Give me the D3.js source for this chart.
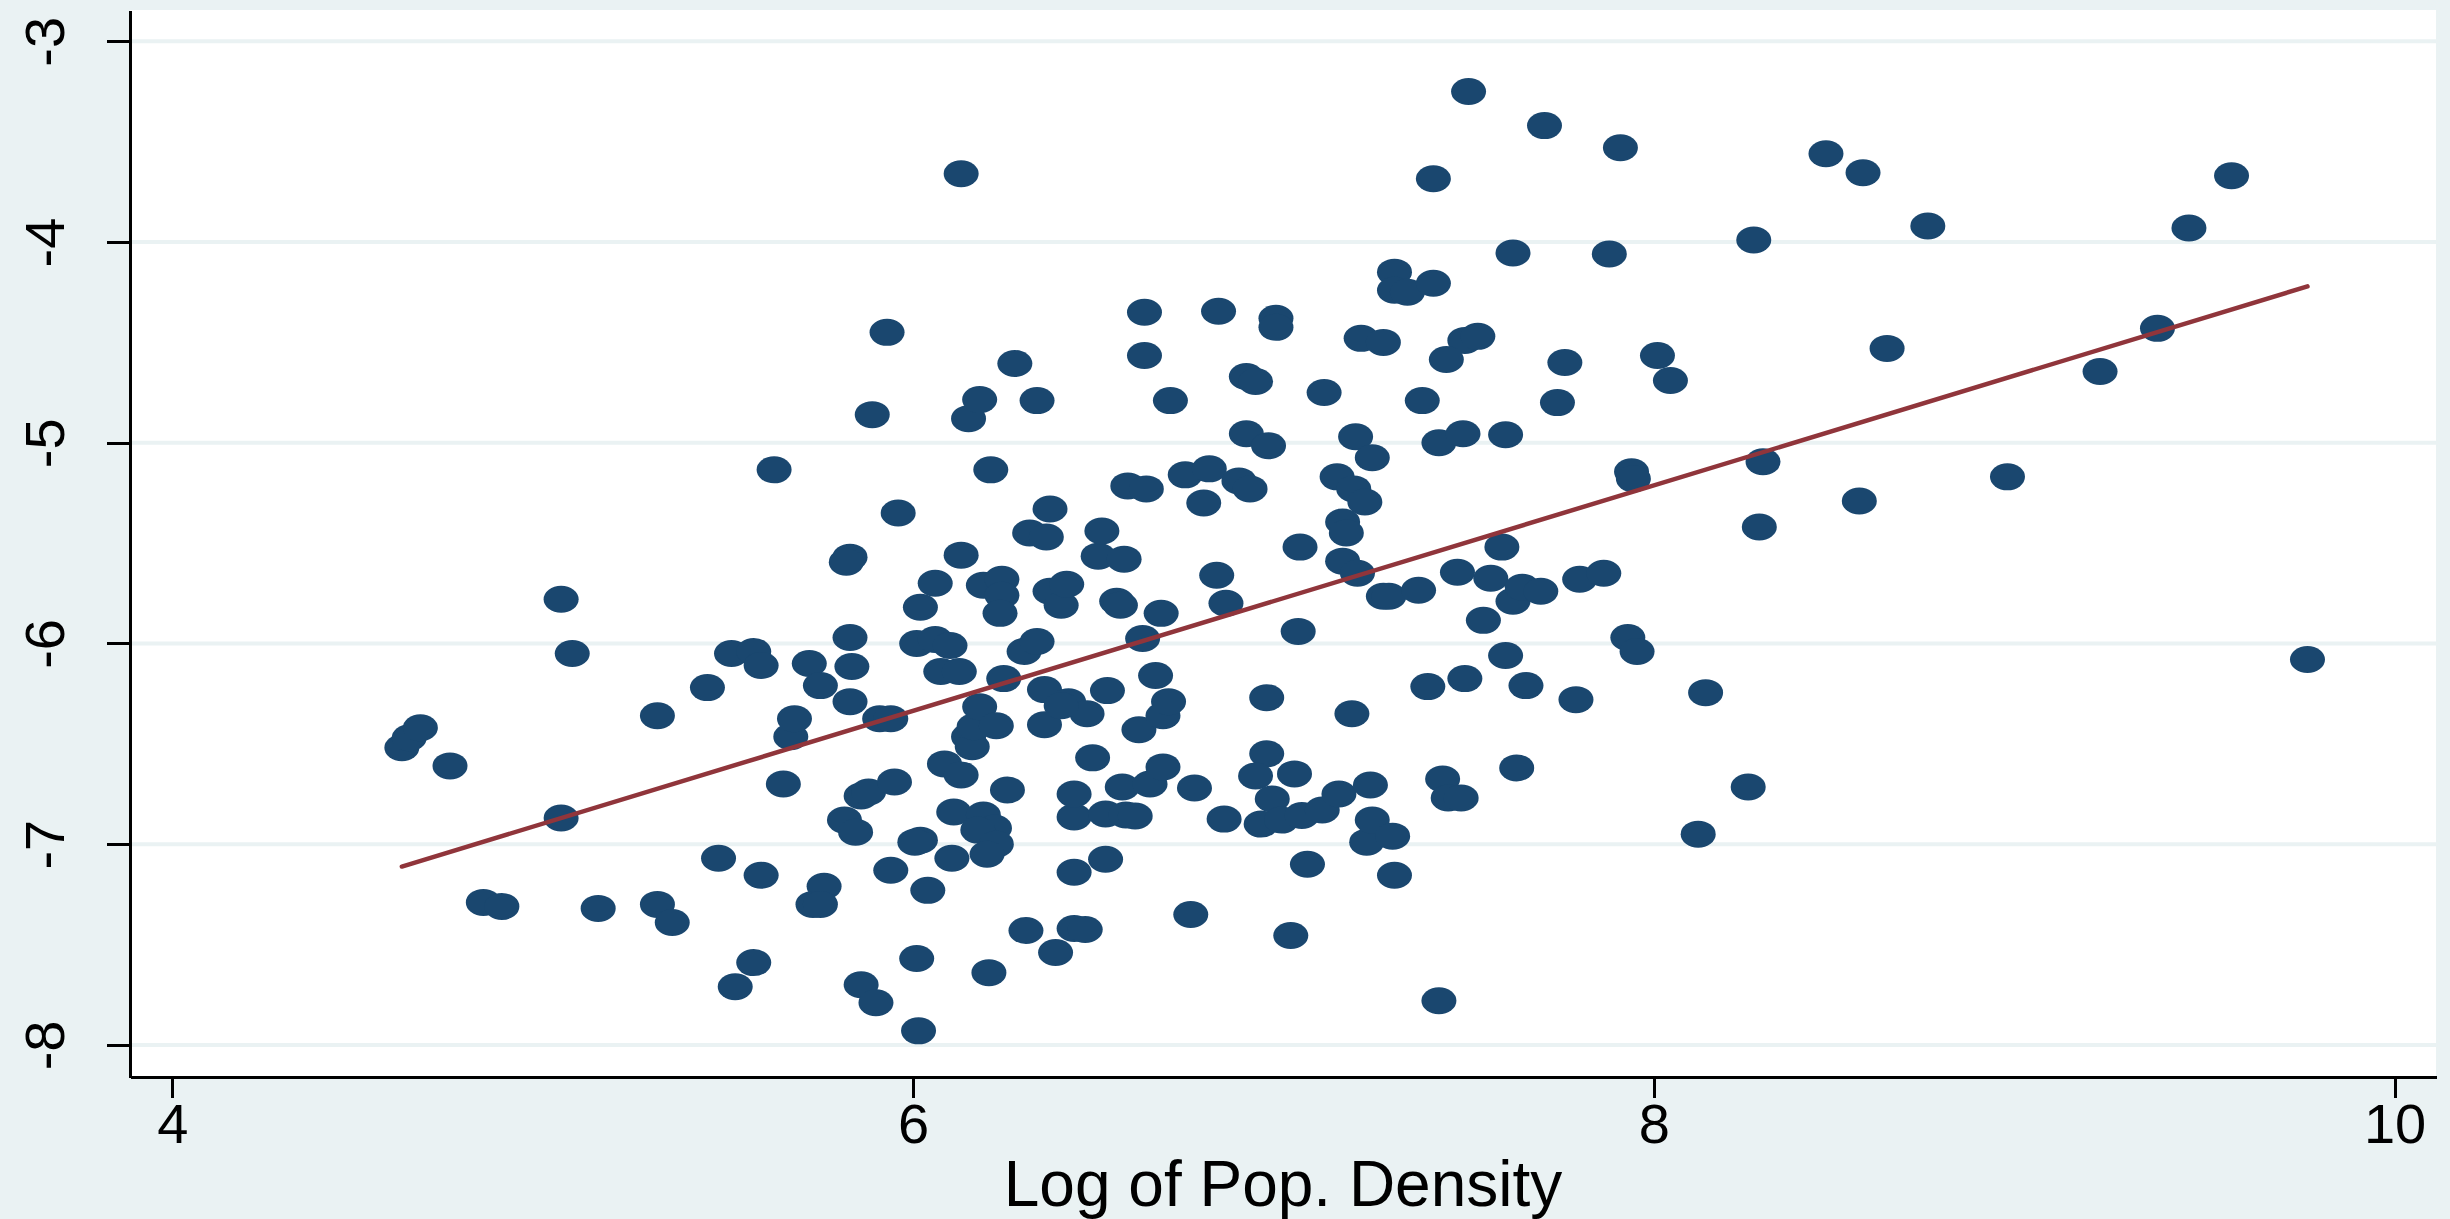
<!DOCTYPE html>
<html>
  <head>
    <meta charset="utf-8">
    <title>Log of Pop. Density scatter</title>
    <script src="https://d3js.org/d3.v7.min.js"></script>
    <style>
        body { margin: 0; background: #eaf2f3; }
        .axis text { font-family: "Liberation Sans", Arial, sans-serif; font-size: 56px; fill: #000; }
        .axis path, .axis line { stroke: #000; stroke-width: 3px; shape-rendering: crispEdges; }
        .x-title { font-family: "Liberation Sans", Arial, sans-serif; font-size: 64px; fill: #000; }
    </style>
  </head>
  <body>
    <svg width="2450" height="1219"></svg>
    <script>
        // x values (log of population density)
        const logDensity = [
          4.62, 4.64, 4.67, 4.75, 4.84, 4.89, 5.05, 5.08, 5.05, 5.15,
          5.31, 5.31, 5.35, 5.445, 5.475, 5.51, 5.52, 5.57, 5.59, 5.57,
          5.59, 5.625, 5.65, 5.67, 5.68, 5.72, 5.75, 5.76, 5.73, 5.75,
          5.83, 5.82, 5.83, 5.835, 5.83, 5.815, 5.845, 5.86, 5.88, 5.95,
          5.86, 5.90, 5.91, 5.94, 5.93, 5.94, 5.96, 5.89, 6.01, 6.02,
          6.02, 6.005, 6.04, 6.01, 6.015, 6.06, 6.06, 6.075, 6.085, 6.125,
          6.10, 6.11, 6.105, 6.13, 6.13, 6.13, 6.15, 6.16, 6.165, 6.15,
          6.18, 6.18, 6.19, 6.22, 6.175, 6.225, 6.20, 6.19, 6.21, 6.205,
          6.225, 6.245, 6.24, 6.24, 6.235, 6.255, 6.275, 6.30, 6.305, 6.335,
          6.315, 6.335, 6.36, 6.37, 6.355, 6.355, 6.37, 6.40, 6.415, 6.385,
          6.42, 6.435, 6.435, 6.435, 6.435, 6.465, 6.47, 6.40, 6.485, 6.50,
          6.51, 6.525, 6.52, 6.52, 6.55, 6.56, 6.57, 6.58, 6.565, 6.575,
          6.60, 6.61, 6.62, 6.63, 6.625, 6.625, 6.655, 6.64, 6.675, 6.67,
          6.675, 6.69, 6.695, 6.735, 6.76, 6.75, 6.785, 6.80, 6.825, 6.82,
          6.845, 6.84, 6.88, 6.90, 6.91, 6.90, 6.925, 6.955, 6.925, 6.97,
          6.94, 6.995, 7.03, 6.955, 6.96, 6.98, 6.98, 7.02, 7.04, 7.045,
          7.05, 7.065, 7.105, 7.11, 7.145, 7.15, 7.16, 7.17, 7.16, 7.195,
          7.19, 7.20, 7.185, 7.22, 7.21, 7.225, 7.24, 7.235, 7.24, 7.27,
          7.285, 7.27, 7.295, 7.30, 7.30, 7.30, 7.335, 7.375, 7.365, 7.39,
          7.405, 7.405, 7.42, 7.42, 7.43, 7.445, 7.48, 7.47, 7.49, 7.49,
          7.525, 7.44, 7.50, 7.485, 7.54, 7.56, 7.59, 7.60, 7.60, 7.62,
          7.63, 7.62, 7.645, 7.655, 7.695, 7.705, 7.74, 7.76, 7.79, 7.80,
          7.865, 7.88, 7.91, 7.93, 7.94, 7.945, 7.955, 8.01, 8.045, 8.12,
          8.14, 8.255, 8.27, 8.285, 8.295, 8.465, 8.555, 8.565, 8.63, 8.74,
          8.955, 9.205, 9.36, 9.445, 9.56, 9.765
        ];

        // y values, same order as logDensity
        const outcome = [
          -6.52, -6.47, -6.42, -6.61, -7.29, -7.31, -5.78, -6.05, -6.87, -7.32,
          -6.36, -7.30, -7.39, -6.22, -7.07, -6.05, -7.71, -6.04, -6.11, -7.59,
          -7.155, -5.135, -6.70, -6.465, -6.375, -6.10, -6.21, -7.21, -7.30, -7.30,
          -5.57, -5.595, -5.97, -6.115, -6.29, -6.88, -6.94, -6.76, -6.74, -6.69,
          -7.70, -7.79, -6.375, -6.375, -4.45, -7.13, -5.35, -4.86, -6.00, -5.82,
          -6.98, -6.99, -7.23, -7.57, -7.93, -5.70, -5.98, -6.14, -6.60, -6.14,
          -6.01, -6.84, -7.07, -6.655, -5.56, -3.66, -6.465, -6.515, -6.415, -4.88,
          -4.785, -6.315, -6.855, -6.92, -6.93, -7.00, -7.05, -5.71, -5.135, -7.64,
          -6.41, -6.175, -5.68, -5.76, -5.85, -6.73, -4.605, -6.04, -7.43, -5.99,
          -5.45, -4.79, -5.47, -5.33, -6.23, -6.405, -5.74, -5.81, -5.705, -7.54,
          -6.29, -6.865, -7.14, -6.75, -7.42, -7.425, -6.35, -6.31, -6.57, -5.565,
          -5.44, -6.235, -7.075, -6.85, -5.79, -5.81, -5.58, -5.215, -6.715, -6.855,
          -6.86, -6.43, -5.975, -5.23, -4.35, -4.565, -6.16, -6.70, -6.615, -5.85,
          -6.36, -6.29, -4.79, -5.16, -6.72, -7.35, -5.30, -5.13, -4.345, -5.66,
          -5.80, -6.875, -5.19, -4.67, -5.23, -4.955, -4.695, -6.55, -6.66, -6.775,
          -6.90, -6.88, -6.65, -6.27, -5.015, -4.38, -4.425, -7.455, -5.94, -5.52,
          -6.857, -7.10, -6.83, -4.75, -5.17, -6.75, -5.395, -5.45, -5.59, -4.97,
          -5.23, -5.65, -6.35, -5.295, -4.48, -6.99, -6.88, -6.705, -5.075, -5.765,
          -5.765, -4.50, -6.96, -7.155, -4.15, -4.24, -4.25, -4.79, -5.735, -6.215,
          -4.205, -3.685, -5.00, -7.78, -6.675, -6.77, -6.77, -5.645, -6.175, -4.49,
          -4.47, -4.585, -3.25, -4.955, -5.885, -5.675, -5.52, -4.96, -6.06, -5.79,
          -6.62, -4.055, -5.72, -6.21, -5.74, -3.42, -4.80, -4.60, -6.28, -5.68,
          -5.65, -4.06, -3.53, -5.97, -5.145, -5.18, -6.04, -4.565, -4.69, -6.95,
          -6.245, -6.715, -3.99, -5.42, -5.095, -3.56, -5.29, -3.655, -4.53, -3.92,
          -5.17, -4.645, -4.43, -3.93, -3.67, -6.08
        ];

        // axis ticks
        const xTicks = [4, 6, 8, 10];
        const yTicks = [-8, -7, -6, -5, -4, -3];

        // fitted line: y = a + b * x
        const fitIntercept = -9.707;
        const fitSlope = 0.5618;

        const points = logDensity.map((x, i) => ({x: x, y: outcome[i]}));

        // plot region inside the 2450 x 1219 page
        const plot = {left: 130, right: 2436, top: 10, bottom: 1077};

        const svg = d3.select("svg");

        svg.append("rect")
            .attr("width", 2450)
            .attr("height", 1219)
            .attr("fill", "#eaf2f3");

        svg.append("rect")
            .attr("x", plot.left)
            .attr("y", plot.top)
            .attr("width", plot.right - plot.left)
            .attr("height", plot.bottom - plot.top)
            .attr("fill", "#ffffff");

        const x = d3.scaleLinear()
            .domain([3.886, 10.112])
            .range([plot.left, plot.right]);

        const y = d3.scaleLinear()
            .domain([-8.16, -2.844])
            .range([plot.bottom, plot.top]);

        // horizontal grid lines
        svg.append("g")
            .selectAll("line")
            .data(yTicks)
            .enter().append("line")
            .attr("x1", plot.left)
            .attr("x2", plot.right)
            .attr("y1", d => y(d))
            .attr("y2", d => y(d))
            .attr("stroke", "#eaf2f3")
            .attr("stroke-width", 4);

        // markers
        svg.append("g")
            .selectAll("ellipse")
            .data(points)
            .enter().append("ellipse")
            .attr("cx", d => x(d.x))
            .attr("cy", d => y(d.y))
            .attr("rx", 17.5)
            .attr("ry", 13.5)
            .attr("fill", "#1a476f");

        // fitted line over the data range
        const xExtent = d3.extent(logDensity);
        const fitData = xExtent.map(v => ({x: v, y: fitIntercept + fitSlope * v}));

        svg.append("path")
            .datum(fitData)
            .attr("d", d3.line().x(d => x(d.x)).y(d => y(d.y)))
            .attr("fill", "none")
            .attr("stroke", "#90353b")
            .attr("stroke-width", 4.5)
            .attr("stroke-linecap", "round");

        // x axis
        const xAxis = svg.append("g")
            .attr("class", "axis")
            .attr("transform", `translate(0, ${plot.bottom})`)
            .call(d3.axisBottom(x).tickValues(xTicks).tickSize(21).tickSizeOuter(0).tickFormat(d => String(d)));

        xAxis.selectAll("text")
            .attr("y", 66)
            .attr("dy", 0);

        // y axis, labels turned to read upwards
        const yAxis = svg.append("g")
            .attr("class", "axis")
            .attr("transform", `translate(${plot.left}, 0)`)
            .call(d3.axisLeft(y).tickValues(yTicks).tickSize(23).tickSizeOuter(0).tickFormat(d => String(d)));

        yAxis.selectAll("text")
            .attr("transform", "rotate(-90)")
            .attr("x", 0)
            .attr("y", -66)
            .attr("dy", 0)
            .attr("text-anchor", "middle");

        // x axis title
        svg.append("text")
            .attr("class", "x-title")
            .attr("x", (plot.left + plot.right) / 2)
            .attr("y", 1206)
            .attr("text-anchor", "middle")
            .text("Log of Pop. Density");
    </script>
  </body>
</html>
